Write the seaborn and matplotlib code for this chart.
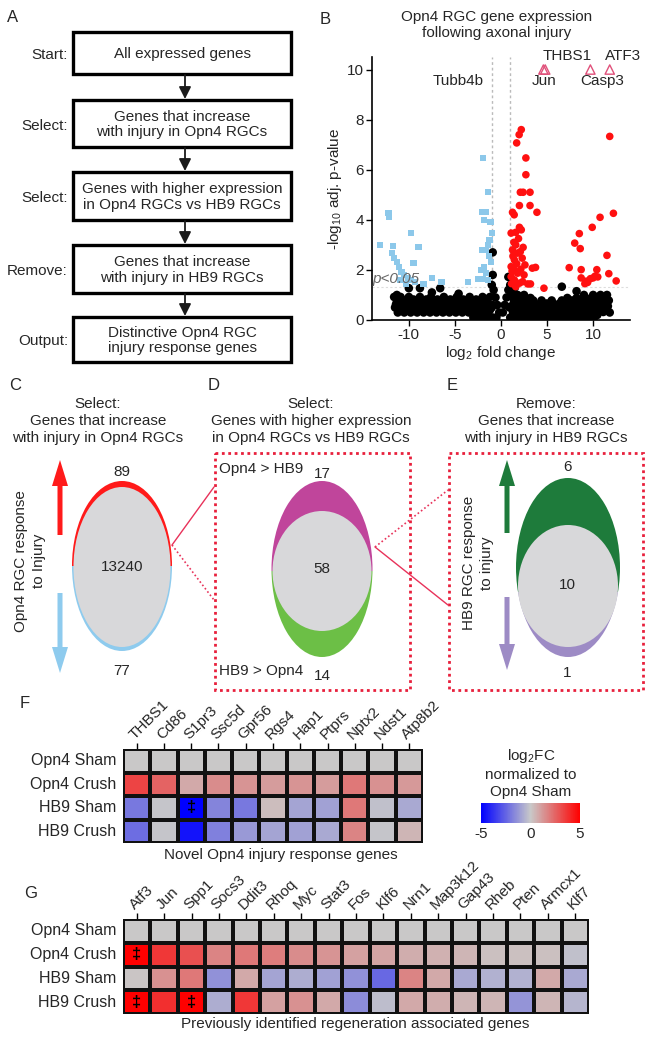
import numpy as np
import pandas as pd
import matplotlib
matplotlib.use("Agg")
import matplotlib.pyplot as plt
import seaborn as sns
from matplotlib.patches import Ellipse, Rectangle
from matplotlib.colors import LinearSegmentedColormap

# ---------------- DATA ----------------
flow_steps = ["Start:", "Select:", "Select:", "Remove:", "Output:"]
flow_boxes = ["All expressed genes",
              "Genes that increase\nwith injury in Opn4 RGCs",
              "Genes with higher expression\nin Opn4 RGCs vs HB9 RGCs",
              "Genes that increase\nwith injury in HB9 RGCs",
              "Distinctive Opn4 RGC\ninjury response genes"]

red_x = [2.2, 1.97, 1.7, 2.7, 2.7, 2.1, 2.4, 3.15, 2.0, 3.15, 3.9, 1.25, 1.43, 2.0, 2.2, 1.6, 1.1,
         1.4, 1.6, 1.25, 1.8, 2.1, 2.3, 1.45, 1.1, 1.45, 1.8, 2.15, 3.4, 3.75, 1.1, 1.45, 2.0, 1.6,
         2.35, 2.9, 3.2, 4.66, 1.2, 1.7, 2.5, 1.3, 1.9, 2.4, 1.15, 2.6,
         11.8, 12.2, 10.75, 9.9, 8.5, 8.0, 8.6, 11.5, 7.4, 8.7, 10.4, 11.7, 8.7, 10.0, 10.5, 10.2,
         12.5, 9.25, 9.1, 9.4, 9.7]
red_y = [7.6, 7.4, 7.07, 6.47, 5.8, 5.1, 5.1, 5.1, 4.57, 4.57, 4.3, 4.3, 4.2, 3.7, 3.6, 3.5, 3.47,
         3.1, 3.0, 2.8, 2.67, 2.73, 2.47, 2.4, 2.13, 2.0, 1.87, 2.03, 2.07, 2.1, 1.73, 1.6, 1.47, 1.33,
         1.53, 1.44, 1.44, 1.27, 1.95, 2.25, 1.8, 2.55, 3.25, 2.9, 1.45, 2.2,
         7.33, 4.26, 4.1, 3.7, 3.45, 3.07, 2.85, 2.58, 2.09, 2.01, 2.01, 1.85, 1.68, 1.68, 1.72, 1.75,
         1.56, 1.55, 1.45, 1.5, 1.65]

blue_x = [-12.2, -12.15, -9.75, -8.96, -13.1, -11.7, -11.8, -11.6, -11.3, -11.1, -10.8, -10.5, -10.1,
          -9.8, -9.3, -9.5, -7.5, -6.45, -3.6, -11.0, -10.3, -8.4,
          -1.97, -1.43, -2.08, -1.6, -1.86, -1.15, -1.0, -1.25, -1.43, -2.08, -1.6, -1.86, -2.15, -1.6,
          -2.5, -1.95, -1.43, -1.1, -1.3]
blue_y = [4.27, 4.13, 3.47, 2.93, 3.0, 2.96, 2.67, 2.47, 2.33, 2.13, 1.93, 1.8, 1.67,
          1.6, 1.53, 2.27, 1.67, 1.53, 1.53, 1.6, 1.45, 1.45,
          6.47, 5.1, 4.3, 4.3, 4.0, 3.9, 3.47, 3.2, 3.0, 2.8, 2.8, 2.13, 2.0, 1.87,
          1.65, 1.65, 1.6, 2.3, 2.55]

black_x = [-11.2, -10.5, -9.8, -9.1, -8.4, -7.7, -7.0, -6.3, -5.6, -4.9, -4.2, -3.5, -2.8, -2.1, -1.4,
           -11.0, -10.3, -9.6, -8.9, -8.2, -7.5, -6.8, -6.1, -5.4, -4.7, -4.0, -3.3, -2.6, -1.9, -1.2,
           -11.5, -10.8, -10.1, -9.4, -8.7, -8.0, -7.3, -6.6, -5.9, -5.2, -4.5, -3.8, -3.1, -2.4, -1.7, -1.0,
           -11.4, -10.7, -10.0, -9.3, -8.6, -7.9, -7.2, -6.5, -5.8, -5.1, -4.4, -3.7, -3.0, -2.3, -1.6,
           -11.3, -10.6, -9.9, -9.2, -8.5, -7.8, -7.1, -6.4, -5.7, -5.0, -4.3, -3.6, -2.9, -2.2, -1.5,
           -11.0, -10.2, -9.5, -8.1, -6.9, -5.5, -4.1, -2.7, -1.6,
           -11.6, -10.9, -10.0, -8.8, -7.6, -6.2, -4.8, -3.4, -2.0, -1.2,
           -3.0, -2.3, -1.6, -0.9, -0.5,
           -11.3, -10.0, -8.8, -6.6, -0.9, -0.9, -7.5, -4.6,
           -0.8, -0.6, -0.4, -0.2, 0.2, 0.4, 0.6, 0.8, 1.0, -1.0, 1.2, 0.9, -0.9,
           1.0, 1.7, 2.4, 3.1, 3.8, 4.5, 5.2, 5.9, 6.6, 7.3, 8.0, 8.7, 9.4, 10.1,
           1.35, 2.05, 2.75, 3.45, 4.15, 4.85, 5.55, 6.25, 6.95, 7.65, 8.35, 9.05, 9.75, 10.45,
           1.3, 2.0, 2.7, 3.4, 4.1, 4.8, 5.5, 6.2, 6.9, 7.6, 8.3, 9.0, 9.7, 10.4, 11.1,
           1.6, 2.3, 3.0, 3.7, 4.4, 5.1, 5.8, 6.5, 7.2, 7.9, 8.6, 9.3, 10.0, 10.7, 11.4,
           1.1, 1.8, 2.5, 3.2, 3.9, 4.6, 5.3, 6.0, 6.7, 7.4, 8.1, 8.8, 9.5, 10.2, 10.9, 11.6,
           1.45, 2.15, 2.85, 3.55, 4.25, 4.95, 5.65, 6.35, 7.05, 7.75, 8.45, 9.15, 9.85, 10.55, 11.25,
           1.4, 2.1, 2.8, 3.5, 4.4, 5.5, 6.6, 7.7, 8.6, 9.4, 10.2, 11.0, 11.7,
           1.7, 2.4, 3.2, 7.2, 8.2, 9.8, 10.6, 11.3,
           1.2, 1.8, 2.5, 9.0, 10.0, 10.8, 11.5,
           6.6, 8.2, 11.8, 0.8, 1.5]
black_y = [0.3] * 15 + [0.4] * 15 + [0.5] * 16 + [0.62] * 15 + [0.72] * 15 + [0.82] * 9 + \
          [0.92] * 10 + [0.1] * 5 + \
          [1.0, 1.27, 1.27, 1.27, 2.7, 1.8, 1.1, 1.05] + \
          [1.2, 0.9, 0.6, 0.3, 0.3, 0.6, 0.9, 1.2, 1.4, 1.4, 1.2, 0.5, 0.6] + \
          [0.1] * 14 + [0.2] * 14 + [0.32] * 15 + [0.43] * 15 + [0.55] * 16 + [0.66] * 15 + \
          [0.78] * 13 + [0.88] * 8 + [1.0] * 7 + \
          [1.33, 1.15, 0.3, 1.72, 1.3]

tri_x = [4.6, 4.8, 9.7, 11.8]
tri_y = [10.0, 10.0, 10.0, 10.0]
gene_labels = ["THBS1", "ATF3", "Jun", "Casp3", "Tubb4b"]
gene_lab_x = [7.2, 13.2, 4.7, 11.0, -4.6]
gene_lab_y = [10.55, 10.55, 9.55, 9.55, 9.55]

venn_C = ["89", "13240", "77"]
venn_D = ["17", "58", "14"]
venn_E = ["6", "10", "1"]

rows = ["Opn4 Sham", "Opn4 Crush", "HB9 Sham", "HB9 Crush"]
genes_F = ["THBS1", "Cd86", "S1pr3", "Ssc5d", "Gpr56", "Rgs4", "Hap1", "Ptprs", "Nptx2", "Ndst1", "Atp8b2"]
vals_F = [[0] * 11,
          [3.3, 2.5, 0.8, 1.5, 1.3, 1.1, 1.3, 1.1, 2.0, 1.4, 1.2],
          [-2.0, -0.1, -6.0, -1.7, -2.0, 0.3, -0.9, -1.0, 2.0, -0.2, -0.8],
          [-2.3, -0.1, -4.5, -1.8, -1.2, -0.9, -1.0, -0.8, 1.7, -0.1, 0.5]]
dagger_F = [(2, 2)]

genes_G = ["Atf3", "Jun", "Spp1", "Socs3", "Ddit3", "Rhoq", "Myc", "Stat3", "Fos", "Klf6", "Nrn1",
           "Map3k12", "Gap43", "Rheb", "Pten", "Armcx1", "Klf7"]
vals_G = [[0] * 17,
          [6.0, 3.6, 3.0, 1.7, 2.0, 1.9, 1.5, 1.3, 1.0, 0.9, 0.7, 0.6, 0.5, 0.2, 0.2, 0.2, -0.2],
          [0.1, 1.4, 2.0, -1.4, 0.8, -0.9, -0.7, -1.0, -1.4, -2.4, 1.7, 0.8, -0.8, -0.6, -0.6, 0.8, -0.8],
          [6.0, 3.8, 6.0, -0.7, 3.6, 1.0, 1.4, 0.8, -1.5, -0.3, 0.8, 0.7, 0.5, 0.5, -1.3, 0.5, -0.5]]
dagger_G = [(1, 0), (3, 0), (3, 2)]

# ---------------- STYLE ----------------
sns.set_theme(style="white")
plt.rcParams["font.family"] = ["Liberation Sans", "DejaVu Sans"]
plt.rcParams["mathtext.default"] = "regular"
plt.rcParams["axes.unicode_minus"] = False

W, H = 650, 1038
fig = plt.figure(figsize=(6.5, 10.38), dpi=100)
fig.patch.set_facecolor("white")


def px_axes(l, t, r, b):
    return fig.add_axes([l / W, 1 - b / H, (r - l) / W, (b - t) / H])


ov = fig.add_axes([0, 0, 1, 1])
ov.set_xlim(0, W)
ov.set_ylim(H, 0)
ov.axis("off")
ov.patch.set_alpha(0)

FS = 11
# ---------------- PANEL A ----------------
ov.text(13, 17, "A", fontsize=12, ha="center", va="center")
ov.text(325, 20, "B", fontsize=12, ha="center", va="center")
box_y = [(32, 74), (100, 147), (172, 220), (245, 293), (317, 362)]
for i, ((t, b), s, lab) in enumerate(zip(box_y, flow_boxes, flow_steps)):
    ov.add_patch(Rectangle((73, t), 218, b - t, fill=True, facecolor="white",
                           edgecolor="black", lw=2.4))
    ov.text(182, (t + b) / 2 + 1, s, ha="center", va="center", fontsize=FS, linespacing=1.1)
    ov.text(68, (t + b) / 2 + 2, lab, ha="right", va="center", fontsize=FS)
    if i < 4:
        ov.annotate("", xy=(185, box_y[i + 1][0] - 1), xytext=(185, b + 1),
                    arrowprops=dict(arrowstyle="-|>,head_width=0.3,head_length=0.6",
                                    color="k", lw=1.3, shrinkA=0, shrinkB=0))

# ---------------- PANEL B (volcano) ----------------
axB = px_axes(372, 57, 630, 320)
axB.set_xlim(-14, 14)
axB.set_ylim(0, 10.5)
axB.axvline(-1, color="#bbbbbb", lw=1, ls=(0, (2, 2)), zorder=0)
axB.axvline(1, color="#bbbbbb", lw=1, ls=(0, (2, 2)), zorder=0)
axB.axhline(1.3, color="#dddddd", lw=0.8, ls=(0, (2, 2)), zorder=0)
sns.scatterplot(x=black_x, y=black_y, color="black", s=38, edgecolor="none", ax=axB, zorder=2)
sns.scatterplot(x=blue_x, y=blue_y, color="#8cc8ea", s=20, marker="s", edgecolor="none", ax=axB, zorder=3)
sns.scatterplot(x=red_x, y=red_y, color="#ff1010", s=30, edgecolor="none", ax=axB, zorder=4)
axB.scatter(tri_x, tri_y, marker="^", s=45, facecolors="none", edgecolors="#e0507a", linewidths=1,
            clip_on=False, zorder=5)
for g, gx, gy in zip(gene_labels, gene_lab_x, gene_lab_y):
    axB.text(gx, gy, g, ha="center", va="center", fontsize=FS, clip_on=False)
axB.text(0.0, 1.65, "p<0.05", transform=axB.get_yaxis_transform(), fontsize=FS,
         style="italic", color="#666666", ha="left", va="center", zorder=6)
for sp in ["top", "right"]:
    axB.spines[sp].set_visible(False)
for sp in ["left", "bottom"]:
    axB.spines[sp].set_color("black")
    axB.spines[sp].set_linewidth(1.2)
axB.set_xticks([-10, -5, 0, 5, 10])
axB.set_yticks([0, 2, 4, 6, 8, 10])
axB.tick_params(axis="both", labelsize=FS, length=4, width=1, color="black", pad=2,
                bottom=True, left=True)
axB.set_xlabel("log$_2$ fold change", fontsize=FS, labelpad=1)
axB.set_ylabel("-log$_{10}$ adj. p-value", fontsize=FS, labelpad=2)
ov.text(497, 25, "Opn4 RGC gene expression\nfollowing axonal injury", ha="center", va="center",
        fontsize=FS, linespacing=1.2)

# ---------------- PANELS C, D, E ----------------
for lab, x in [("C", 15), ("D", 214), ("E", 452)]:
    ov.text(x, 385, lab, fontsize=12, ha="center", va="center")
titles = ["Select:\nGenes that increase\nwith injury in Opn4 RGCs",
          "Select:\nGenes with higher expression\nin Opn4 RGCs vs HB9 RGCs",
          "Remove:\nGenes that increase\nwith injury in HB9 RGCs"]
for t, x in zip(titles, [98, 311, 546]):
    ov.text(x, 421, t, ha="center", va="center", fontsize=FS, linespacing=1.25)


def split_ellipse(cx, cy, w, h, top_color, bot_color, split_y, inner):
    e1 = Ellipse((cx, cy), w, h, facecolor=top_color, edgecolor="none")
    ov.add_patch(e1)
    e1.set_clip_path(Rectangle((0, 0), W, split_y, transform=ov.transData))
    e2 = Ellipse((cx, cy), w, h, facecolor=bot_color, edgecolor="none")
    ov.add_patch(e2)
    e2.set_clip_path(Rectangle((0, split_y), W, H - split_y, transform=ov.transData))
    icx, icy, iw, ih = inner
    ov.add_patch(Ellipse((icx, icy), iw, ih, facecolor="#d8d8da", edgecolor="none"))


def arrow(x, y0, y1, color):
    ov.arrow(x, y0, 0, y1 - y0, width=5, head_width=16, head_length=26,
             length_includes_head=True, color=color, lw=0)


# C
split_ellipse(122, 566, 100, 170, "#ff1a1a", "#8ecbee", 566, (122, 567, 97, 160))
arrow(60, 535, 460, "#ff1a1a")
arrow(60, 593, 673, "#8ecbee")
ov.text(30, 561, "Opn4 RGC response\nto Injury", rotation=90, ha="center", va="center",
        fontsize=FS, multialignment="center", linespacing=1.35)
ov.text(122, 472, venn_C[0], ha="center", va="center", fontsize=FS)
ov.text(122, 567, venn_C[1], ha="center", va="center", fontsize=FS)
ov.text(122, 671, venn_C[2], ha="center", va="center", fontsize=FS)

# D
box_kw = dict(fill=False, edgecolor="#e8203c", lw=2, ls=(0, (1, 1.3)))
ov.add_patch(Rectangle((215, 453), 195, 237, **box_kw))
split_ellipse(322, 569, 101, 176, "#c0459b", "#6cbf46", 571, (322, 571, 99, 120))
ov.text(219, 469, "Opn4 > HB9", ha="left", va="center", fontsize=FS)
ov.text(322, 474, venn_D[0], ha="center", va="center", fontsize=FS)
ov.text(322, 569, venn_D[1], ha="center", va="center", fontsize=FS)
ov.text(219, 671, "HB9 > Opn4", ha="left", va="center", fontsize=FS)
ov.text(322, 676, venn_D[2], ha="center", va="center", fontsize=FS)
ov.plot([172, 214], [545, 487], color="#e8325a", lw=1)
ov.plot([172, 214], [545, 600], color="#e8325a", lw=1.2, ls=(0, (1, 1.5)))

# E
ov.add_patch(Rectangle((449, 453), 194, 237, **box_kw))
split_ellipse(568, 567.5, 104, 179, "#1e7b3b", "#9d8bc5", 592, (568, 586, 100, 122))
arrow(507, 533, 460, "#1e7b3b")
arrow(507, 597, 670, "#9d8bc5")
ov.text(478, 563, "HB9 RGC response\nto injury", rotation=90, ha="center", va="center",
        fontsize=FS, multialignment="center", linespacing=1.35)
ov.text(567, 467, venn_E[0], ha="center", va="center", fontsize=FS)
ov.text(567, 585, venn_E[1], ha="center", va="center", fontsize=FS)
ov.text(567, 673, venn_E[2], ha="center", va="center", fontsize=FS)
ov.plot([375, 448], [547, 490], color="#e8325a", lw=1.2, ls=(0, (1, 1.5)))
ov.plot([375, 448], [547, 605], color="#e8325a", lw=1)

# ---------------- PANELS F, G (heatmaps) ----------------
cmap = LinearSegmentedColormap.from_list("bgr", ["#0000ff", "#c9c9c9", "#ff0000"])


def heat(ax, vals, genes, daggers):
    df = pd.DataFrame(vals, index=rows, columns=genes)
    ann = np.full(df.shape, "", dtype=object)
    for r, c in daggers:
        ann[r, c] = "‡"
    sns.heatmap(df, ax=ax, cmap=cmap, vmin=-5, vmax=5, cbar=False, linewidths=1.6,
                linecolor="#111111", annot=ann, fmt="",
                annot_kws=dict(color="black", fontsize=12, fontweight="bold"))
    ax.xaxis.set_ticks_position("top")
    ax.tick_params(axis="x", top=True, bottom=False, labeltop=True, labelbottom=False,
                   length=4, width=1, color="black", pad=1, labelsize=FS)
    ax.set_xticklabels(genes, rotation=45, ha="left", va="bottom", rotation_mode="anchor")
    ax.set_yticklabels(rows, rotation=0, fontsize=FS + 0.5)
    ax.tick_params(axis="y", length=0, pad=5)
    ax.set_xlabel("")
    ax.set_ylabel("")
    return ax


axF = px_axes(123, 749, 423, 843)
heat(axF, vals_F, genes_F, dagger_F)
axG = px_axes(123, 919, 589, 1014)
heat(axG, vals_G, genes_G, dagger_G)

ov.text(25, 703, "F", fontsize=12, ha="center", va="center")
ov.text(31, 893, "G", fontsize=12, ha="center", va="center")
ov.text(281, 855, "Novel Opn4 injury response genes", ha="center", va="center", fontsize=FS)
ov.text(355, 1024, "Previously identified regeneration associated genes", ha="center", va="center",
        fontsize=FS)

cax = px_axes(481, 803, 580, 823)
cb = fig.colorbar(axF.collections[0], cax=cax, orientation="horizontal", ticks=[-5, 0, 5])
cb.outline.set_visible(False)
cax.tick_params(labelsize=FS, length=0, pad=3)
ov.text(531, 773, "log$_2$FC\nnormalized to\nOpn4 Sham", ha="center", va="center", fontsize=FS,
        linespacing=1.3)

fig.savefig("out.png", dpi=100, facecolor="white")
